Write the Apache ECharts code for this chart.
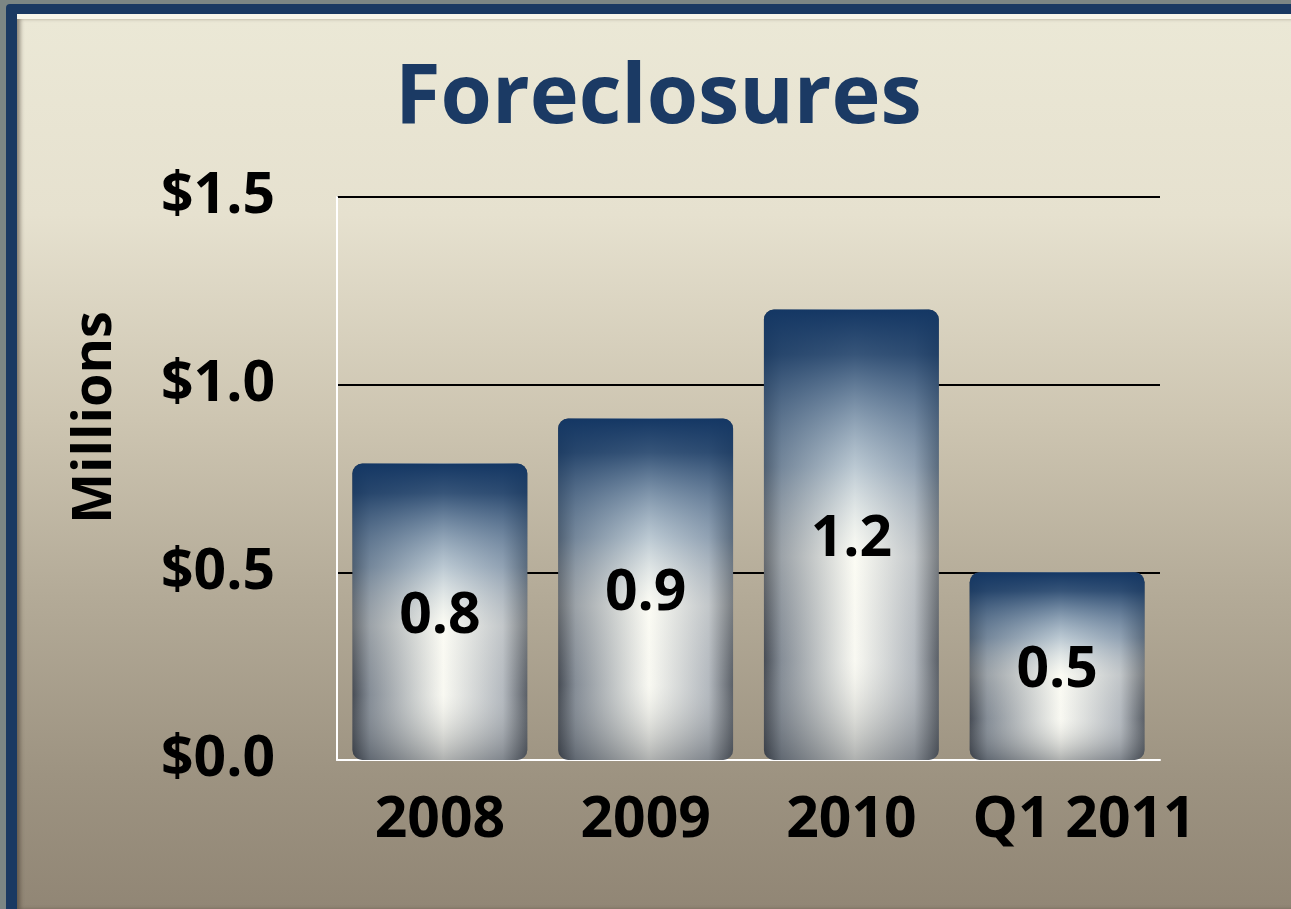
<!DOCTYPE html>
<html>
<head>
<meta charset="utf-8">
<script src="https://cdn.jsdelivr.net/npm/echarts@6/dist/echarts.min.js"></script>
<style>
  html, body { margin: 0; padding: 0; width: 1291px; height: 909px; overflow: hidden; background: #7c8684; }
  .frame {
    position: absolute; left: 6px; top: 4px; width: 1285px; height: 905px;
    background: #1a3962; border-top-left-radius: 4px;
  }
  .panel {
    position: absolute; left: 11px; top: 10px; right: 0; bottom: 0;
    background: linear-gradient(to bottom, #ebe8d6 0%, #e6e1cf 22%, #cdc5b1 45%, #b3aa97 65%, #9d9381 85%, #918675 100%);
    border-top: 5px solid #f8f6ea;
    box-shadow: inset 4px 0 4px -1px rgba(60,50,40,0.55);
  }
  #chart { position: absolute; left: 0; top: 0; width: 1291px; height: 909px; }
</style>
</head>
<body>
<div class="frame"><div class="panel"></div></div>
<div id="chart"></div>
<script>
// data
const categories = ['2008', '2009', '2010', 'Q1 2011'];
const foreclosures = [0.79, 0.91, 1.2, 0.5]; // millions
const yTicks = [0, 0.5, 1.0, 1.5];

const chart = echarts.init(document.getElementById('chart'));

const font = "'Open Sans', Lato, sans-serif";

// cylinder look: side shading + blue top fade, two bars laid over each other
const sideShade = {
  type: 'linear', x: 0, y: 0, x2: 1, y2: 0,
  colorStops: [
    { offset: 0, color: '#343a44' },
    { offset: 0.1, color: '#7a838e' },
    { offset: 0.52, color: '#fbfbf4' },
    { offset: 0.86, color: '#aeb4bb' },
    { offset: 1, color: '#4a5059' }
  ]
};
const topShade = {
  type: 'linear', x: 0, y: 0, x2: 0, y2: 1,
  colorStops: [
    { offset: 0, color: 'rgba(20,55,100,1)' },
    { offset: 0.1, color: 'rgba(28,62,104,0.88)' },
    { offset: 0.35, color: 'rgba(110,140,170,0.45)' },
    { offset: 0.55, color: 'rgba(255,255,245,0.25)' },
    { offset: 0.78, color: 'rgba(230,230,225,0.1)' },
    { offset: 1, color: 'rgba(60,65,72,0.4)' }
  ]
};

// last label sits a little right of its bar, as in the picture
const xLabels = categories.map((c, i) =>
  i === categories.length - 1 ? { value: c, textStyle: { padding: [0, 0, 0, 54] } } : c
);

const option = {
  title: {
    text: 'Foreclosures',
    left: 390,
    top: 53,
    textStyle: { fontFamily: font, fontWeight: 'bold', fontSize: 83, color: '#1b3a64' }
  },
  grid: { left: 337, right: 131, top: 197, bottom: 149 },
  xAxis: {
    type: 'category',
    data: xLabels,
    axisLine: { lineStyle: { color: '#ffffff', width: 2 } },
    axisTick: { show: false },
    axisLabel: {
      interval: 0, margin: 32, color: '#000', fontFamily: font, fontWeight: 'bold', fontSize: 57
    }
  },
  yAxis: {
    type: 'value',
    min: yTicks[0],
    max: yTicks[yTicks.length - 1],
    interval: 0.5,
    name: 'Millions',
    nameLocation: 'middle',
    nameGap: 214,
    nameTextStyle: {
      color: '#000', fontFamily: font, fontWeight: 'bold', fontSize: 54,
      padding: [0, 0, 0, 122]
    },
    axisLine: { show: true, lineStyle: { color: '#ffffff', width: 2 } },
    axisTick: { show: false },
    axisLabel: {
      margin: 62, color: '#000', fontFamily: font, fontWeight: 'bold', fontSize: 57,
      formatter: v => '$' + v.toFixed(1)
    },
    splitLine: { lineStyle: { color: '#000', width: 2 } }
  },
  series: [
    {
      type: 'bar',
      data: foreclosures,
      barWidth: '85%',
      itemStyle: { color: sideShade, borderRadius: 10 },
      silent: true,
      z: 2
    },
    {
      type: 'bar',
      data: foreclosures,
      barWidth: '85%',
      barGap: '-100%',
      itemStyle: { color: topShade, borderRadius: 10 },
      label: {
        show: true, position: 'inside', offset: [0, 5],
        color: '#000', fontFamily: font, fontWeight: 'bold', fontSize: 57,
        formatter: p => p.value.toFixed(1)
      },
      z: 3
    }
  ]
};
chart.setOption(option);
</script>
</body>
</html>
